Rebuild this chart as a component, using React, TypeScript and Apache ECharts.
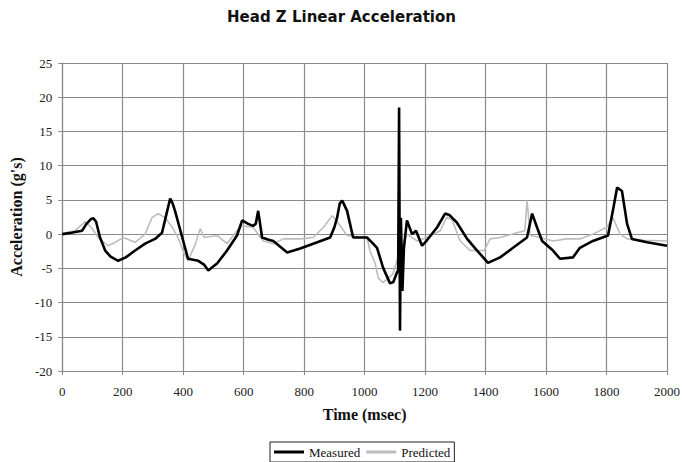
import React, { useEffect, useRef } from "react";
import * as echarts from "echarts";

const titleText = "Head Z Linear Acceleration";
const xAxisName = "Time (msec)";
const yAxisName = "Acceleration (g's)";
const seriesNames = ["Measured", "Predicted"];

const measuredT = [0, 30, 66, 80, 95, 103, 112, 125, 142, 160, 185, 210, 241, 274, 307, 330, 345, 357, 365, 373, 397, 416, 450, 470, 483, 497, 512, 545, 578, 595, 615, 631, 640, 648, 661, 680, 698, 720, 744, 787, 830, 886, 900, 909, 918, 926, 942, 962, 1008, 1028, 1041, 1061, 1084, 1095, 1108, 1111, 1114, 1117, 1120, 1125, 1130, 1140, 1157, 1170, 1190, 1206, 1240, 1266, 1280, 1305, 1339, 1372, 1408, 1448, 1491, 1537, 1554, 1570, 1587, 1623, 1646, 1689, 1712, 1755, 1805, 1821, 1835, 1851, 1868, 1884, 1934, 2000];
const measuredY = [0, 0.2, 0.5, 1.5, 2.2, 2.3, 1.8, -0.5, -2.4, -3.3, -3.9, -3.4, -2.4, -1.4, -0.7, 0.2, 3, 5.2, 4.5, 3.4, -0.5, -3.6, -3.9, -4.5, -5.3, -4.8, -4.3, -2.4, -0.2, 2.0, 1.5, 1.2, 1.5, 3.4, -0.5, -0.8, -1.0, -1.8, -2.7, -2.1, -1.4, -0.5, 1.0, 2.4, 4.5, 4.9, 3.4, -0.5, -0.5, -1.4, -2.0, -4.9, -7.2, -7.0, -5.5, -5.3, 18.5, -14.1, 2.4, -8.3, -2, 2, 0, 0.5, -1.7, -0.9, 1.0, 3.0, 2.8, 1.7, -0.7, -2.4, -4.2, -3.4, -2.0, -0.5, 3.0, 1.0, -1.0, -2.4, -3.6, -3.4, -2.0, -1.0, -0.2, 3.4, 6.8, 6.3, 1.5, -0.7, -1.2, -1.7];

const predictedT = [0, 20, 43, 60, 76, 96, 119, 152, 175, 202, 241, 274, 297, 317, 340, 364, 383, 400, 416, 440, 456, 470, 512, 545, 578, 595, 631, 665, 698, 731, 787, 830, 864, 893, 920, 942, 1008, 1018, 1035, 1045, 1061, 1094, 1117, 1140, 1173, 1206, 1250, 1272, 1290, 1316, 1349, 1395, 1415, 1448, 1504, 1530, 1537, 1548, 1581, 1623, 1667, 1712, 1755, 1801, 1821, 1845, 1868, 1924, 2000];
const predictedY = [0, 0.3, 0.5, 1.2, 1.8, 1.0, -0.5, -1.7, -1.2, -0.5, -1.2, 0, 2.4, 3.0, 2.4, 1.0, -0.5, -2.5, -3.9, -1.5, 0.8, -0.5, -0.2, -1.4, 0.5, 1.2, 1.0, -1.0, -1.4, -0.7, -0.7, -0.5, 1.0, 2.7, 1.2, -0.2, -0.5, -2.5, -4.3, -6.4, -7.1, -5.8, -2.4, 0, -1.0, -0.5, 0.5, 2.5, 2.0, -1.0, -2.4, -2.4, -0.7, -0.5, 0.2, 0.5, 4.9, -0.2, -0.5, -1.0, -0.7, -0.7, 0, 1.0, 2.4, 0, -0.7, -0.9, -1.0];

const xMin = 0, xMax = 2000, xStep = 200;
const yMin = -20, yMax = 25, yStep = 5;

function zip(t: number[], y: number[]) {
  const n = Math.min(t.length, y.length);
  const out: number[][] = [];
  for (let i = 0; i < n; i++) out.push([t[i], y[i]]);
  return out;
}

const serif = "'Liberation Serif', 'Times New Roman', serif";
const gridColor = "#8a8a8a";
const measuredColor = "#000000";
const predictedColor = "#bdbdbd";

export default function App() {
  const ref = useRef<HTMLDivElement>(null);
  useEffect(() => {
    if (!ref.current) return;
    const chart = echarts.init(ref.current, null, { renderer: "svg" });
    chart.setOption({
      animation: false,
      backgroundColor: "#ffffff",
      title: {
        text: titleText,
        left: "center",
        top: 9,
        padding: 0,
        textStyle: { fontFamily: "'DejaVu Sans', sans-serif", fontWeight: "bold", fontSize: 15, color: "#111" },
      },
      grid: { left: 62, right: 16, top: 63, bottom: 91, containLabel: false },
      legend: {
        left: 270,
        top: 442,
        padding: [3, 4, 3, 4],
        itemGap: 6,
        itemWidth: 30,
        itemHeight: 3,
        icon: "rect",
        borderColor: "#222",
        borderWidth: 1,
        borderRadius: 0,
        textStyle: { fontFamily: serif, fontSize: 13, color: "#111", lineHeight: 14 },
        data: [
          { name: seriesNames[0], icon: "rect", itemStyle: { color: measuredColor } },
          { name: seriesNames[1], icon: "rect", itemStyle: { color: predictedColor } },
        ],
      },
      xAxis: {
        type: "value",
        min: xMin,
        max: xMax,
        interval: xStep,
        name: xAxisName,
        nameLocation: "middle",
        nameGap: 35,
        nameTextStyle: { fontFamily: serif, fontWeight: "bold", fontSize: 16, color: "#111" },
        axisLine: { show: true, onZero: false, lineStyle: { color: gridColor, width: 1.2 } },
        axisTick: { show: true, length: 4, lineStyle: { color: gridColor } },
        axisLabel: { fontFamily: serif, fontSize: 13, color: "#222", margin: 14, formatter: (v: number) => String(v) },
        splitLine: { show: true, lineStyle: { color: gridColor, width: 1.2 } },
      },
      yAxis: {
        type: "value",
        min: yMin,
        max: yMax,
        interval: yStep,
        name: yAxisName,
        nameLocation: "middle",
        nameGap: 38,
        nameTextStyle: { fontFamily: serif, fontWeight: "bold", fontSize: 16, color: "#111" },
        axisLine: { show: true, lineStyle: { color: gridColor, width: 1.2 } },
        axisTick: { show: true, length: 4, lineStyle: { color: gridColor } },
        axisLabel: { fontFamily: serif, fontSize: 13, color: "#222", margin: 10, formatter: (v: number) => String(v) },
        splitLine: { show: true, lineStyle: { color: gridColor, width: 1.2 } },
      },
      series: [
        {
          name: seriesNames[1],
          type: "line",
          symbol: "none",
          data: zip(predictedT, predictedY),
          lineStyle: { color: predictedColor, width: 1.6 },
          itemStyle: { color: predictedColor },
          z: 2,
        },
        {
          name: seriesNames[0],
          type: "line",
          symbol: "none",
          data: zip(measuredT, measuredY),
          lineStyle: { color: measuredColor, width: 2.6 },
          itemStyle: { color: measuredColor },
          z: 3,
        },
      ],
    });
    return () => chart.dispose();
  }, []);
  return (
    <div
      ref={ref}
      style={{ position: "fixed", left: 0, top: 0, width: 683, height: 462, background: "#fff" }}
    />
  );
}
